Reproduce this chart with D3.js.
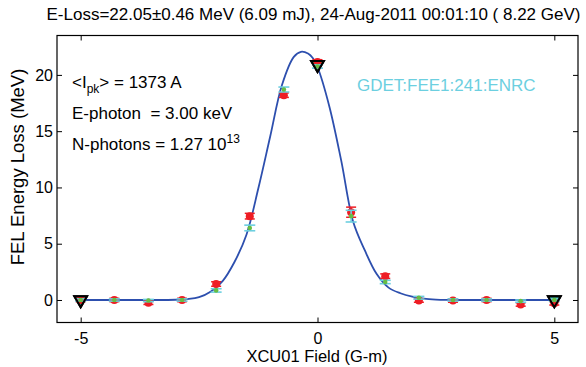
<!DOCTYPE html>
<html><head><meta charset="utf-8">
<script src="https://cdn.jsdelivr.net/npm/d3@7"></script>
<style>
body{margin:0;background:#fff}
svg text{font-family:"Liberation Sans",Arial,Helvetica,sans-serif;fill:#000}
</style>
</head><body>
<svg id="chart" width="586" height="367"></svg>
<script>
// Undulator-segment scan: FEL energy loss vs. XCU01 corrector field
const fieldValues   = [-5, -4.29, -3.57, -2.86, -2.14, -1.43, -0.71, 0, 0.71, 1.43, 2.14, 2.86, 3.57, 4.29, 5];
const lossEbeam     = [0, 0, -0.25, 0, 1.42, 7.45, 18.2, 21.15, 7.8, 2.12, -0.05, -0.05, 0, -0.4, -0.3];
const lossEbeamErr  = [0.15, 0.15, 0.15, 0.15, 0.2, 0.25, 0.2, 0.2, 0.45, 0.2, 0.15, 0.15, 0.15, 0.15, 0.15];
const lossGdet      = [0, 0, -0.05, 0, 0.85, 6.4, 18.7, 20.75, 7.45, 1.6, 0.2, 0, 0, -0.1, 0];
const lossGdetErr   = [0.1, 0.1, 0.1, 0.1, 0.15, 0.25, 0.22, 0.15, 0.52, 0.15, 0.12, 0.1, 0.1, 0.1, 0.1];
const refField      = [-5, 0, 5];
const refLoss       = [0, 20.9, 0];
const fitField      = [-5, -4, -3, -2.75, -2.5, -2.25, -2.0, -1.75, -1.5, -1.25, -1.0, -0.75, -0.5, -0.35, -0.2, -0.1, 0, 0.25, 0.5, 0.75, 1.0, 1.25, 1.5, 1.75, 2.0, 2.25, 2.5, 2.75, 3, 4, 5];
const fitLoss       = [0, 0, 0.02, 0.08, 0.25, 0.75, 1.7, 3.4, 5.8, 9.9, 14.5, 19.1, 21.6, 22.05, 21.9, 21.5, 20.7, 17.2, 12.4, 7.0, 4.4, 2.3, 1.1, 0.6, 0.3, 0.12, 0.04, 0.01, 0, 0, 0];
const xTicks = [-5, 0, 5];
const yTicks = [0, 5, 10, 15, 20];

const titleText = "E-Loss=22.05\u00B10.46 MeV (6.09 mJ), 24-Aug-2011 00:01:10 ( 8.22 GeV)";

const svg = d3.select("#chart");
const L = 57, R = 578, T = 35.5, B = 322.5;
const x = d3.scaleLinear().domain([-5.5, 5.5]).range([L, R]);
const y = d3.scaleLinear().domain([-2, 23.5]).range([B, T]);

const red = "#ee1c24", cyan = "#6ccfe0", green = "#66bd45", blue = "#2d4fae";

// Plot frame with inward ticks on all four sides
const tick = 5;
const axB = svg.append("g").attr("transform", `translate(0,${B})`)
  .call(d3.axisBottom(x).tickValues(xTicks).tickSizeInner(-tick).tickSizeOuter(0).tickPadding(10).tickFormat(d3.format("d")));
const axT = svg.append("g").attr("transform", `translate(0,${T})`)
  .call(d3.axisTop(x).tickValues(xTicks).tickSizeInner(-tick).tickSizeOuter(0).tickFormat(""));
const axL = svg.append("g").attr("transform", `translate(${L},0)`)
  .call(d3.axisLeft(y).tickValues(yTicks).tickSizeInner(-tick).tickSizeOuter(0).tickPadding(4).tickFormat(d3.format("d")));
const axR = svg.append("g").attr("transform", `translate(${R},0)`)
  .call(d3.axisRight(y).tickValues(yTicks).tickSizeInner(-tick).tickSizeOuter(0).tickFormat(""));
[axB, axT, axL, axR].forEach(g => {
  g.select(".domain").remove();
  g.selectAll("line").attr("stroke", "#000").attr("stroke-width", 1);
  g.selectAll("text").attr("font-size", 16).attr("fill", "#000")
    .attr("font-family", "Liberation Sans, Arial, sans-serif");
});
axB.selectAll("text").text(d => d < 0 ? "-" + Math.abs(d) : d);
svg.append("rect").attr("x", L).attr("y", T).attr("width", R - L).attr("height", B - T)
  .attr("fill", "none").attr("stroke", "#000").attr("stroke-width", 1.2);

// Fitted curve
const line = d3.line().x((d, i) => x(fitField[i])).y(d => y(d)).curve(d3.curveCatmullRom.alpha(0.5));
svg.append("path").datum(fitLoss).attr("d", line)
  .attr("fill", "none").attr("stroke", blue).attr("stroke-width", 1.8);

// Error bar helper
function errorBars(values, errs, color, capW, sw) {
  const g = svg.append("g").attr("stroke", color).attr("stroke-width", sw);
  fieldValues.forEach((f, i) => {
    const cx = x(f), y0 = y(values[i] - errs[i]), y1 = y(values[i] + errs[i]);
    g.append("line").attr("x1", cx).attr("x2", cx).attr("y1", y0).attr("y2", y1);
    g.append("line").attr("x1", cx - capW / 2).attr("x2", cx + capW / 2).attr("y1", y0).attr("y2", y0);
    g.append("line").attr("x1", cx - capW / 2).attr("x2", cx + capW / 2).attr("y1", y1).attr("y2", y1);
  });
}

// Reference scan points (inverted triangles)
const tri = d3.symbol().type(d3.symbolTriangle).size(70);
svg.append("g").selectAll("path").data(refLoss).join("path")
  .attr("d", tri)
  .attr("transform", (d, i) => `translate(${x(refField[i])},${y(d)}) rotate(180)`)
  .attr("fill", (d, i) => refField[i] === 0 ? "#4fae3c" : "#3fb5a5")
  .attr("stroke", "#000").attr("stroke-width", 2);

// E-beam loss measurement (red)
errorBars(lossEbeam, lossEbeamErr, red, 10, 1.5);
svg.append("g").selectAll("circle").data(lossEbeam).join("circle")
  .attr("cx", (d, i) => x(fieldValues[i])).attr("cy", d => y(d)).attr("r", 4)
  .attr("fill", red);

// Gas-detector measurement (green with cyan bars)
errorBars(lossGdet, lossGdetErr, cyan, 11, 1.6);
svg.append("g").selectAll("circle").data(lossGdet).join("circle")
  .attr("cx", (d, i) => x(fieldValues[i])).attr("cy", d => y(d)).attr("r", 2.3)
  .attr("fill", green);

// Redraw triangle outlines on top
svg.append("g").selectAll("path").data(refLoss).join("path")
  .attr("d", tri)
  .attr("transform", (d, i) => `translate(${x(refField[i])},${y(d)}) rotate(180)`)
  .attr("fill", "none").attr("stroke", "#000").attr("stroke-width", 2);

// Title and axis labels
svg.append("text").attr("x", 313.5).attr("y", 20).attr("text-anchor", "middle")
  .attr("font-size", 17).text(titleText);
svg.append("text").attr("x", 317).attr("y", 362).attr("text-anchor", "middle")
  .attr("font-size", 16.5).text("XCU01 Field (G-m)");
svg.append("text").attr("transform", "translate(24,167) rotate(-90)").attr("text-anchor", "middle")
  .attr("font-size", 18.5).text("FEL Energy Loss (MeV)");

// Annotations
const a1 = svg.append("text").attr("x", 72).attr("y", 88).attr("font-size", 17);
a1.append("tspan").text("<I");
a1.append("tspan").attr("font-size", 12).attr("dy", 5).text("pk");
a1.append("tspan").attr("dy", -5).text("> = 1373 A");
svg.append("text").attr("x", 72).attr("y", 119).attr("font-size", 17)
  .attr("xml:space", "preserve").text("E-photon  = 3.00 keV");
const a3 = svg.append("text").attr("x", 72).attr("y", 150).attr("font-size", 17);
a3.append("tspan").text("N-photons = 1.27 10");
a3.append("tspan").attr("font-size", 12).attr("dy", -7).text("13");
svg.append("text").attr("x", 357).attr("y", 91).attr("font-size", 17)
  .attr("fill", cyan).style("fill", cyan).text("GDET:FEE1:241:ENRC");
</script>
</body></html>
